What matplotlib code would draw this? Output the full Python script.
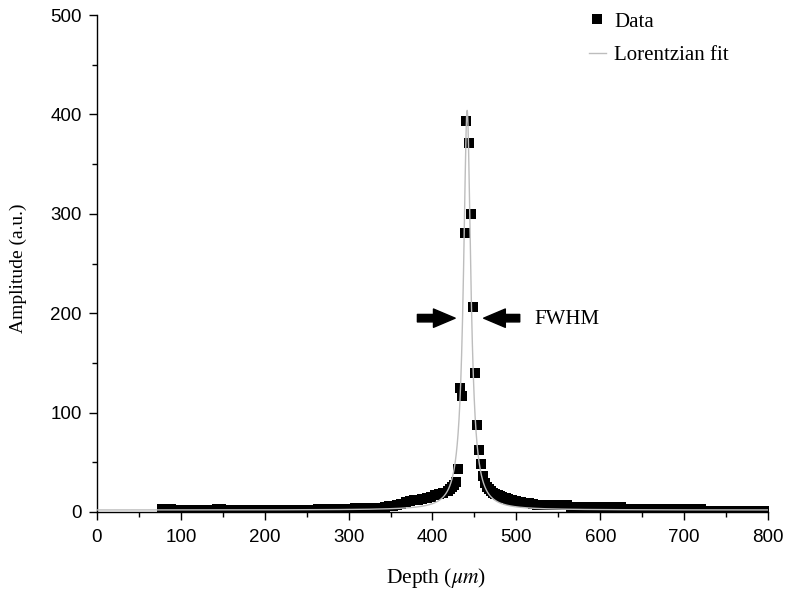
import numpy as np
import matplotlib
matplotlib.use('Agg')
import matplotlib.pyplot as plt
from matplotlib.patches import FancyArrowPatch
from matplotlib.ticker import MultipleLocator

# ---------------- data ----------------
depth_left = [78, 83, 88, 93, 98, 103, 108, 113, 118, 123, 128, 133, 138, 143, 148,
              153, 158, 163, 168, 173, 178, 183, 188, 193, 198, 203, 208, 213, 218, 223,
              228, 233, 238, 243, 248, 253, 258, 263, 268, 273, 278, 283, 288, 293, 298,
              303, 308, 313, 318, 323, 328, 333, 338, 343, 348, 353, 358, 363, 368, 373,
              378, 383, 388, 393, 398, 403, 408, 413, 418, 420.5, 423, 425.5, 428]
amp_left = [3, 3, 3, 1.7, 1.7, 1.7, 1.7, 1.7, 1.7, 1.7, 1.7, 1.7, 1.7, 3, 3,
            1.7, 1.7, 1.7, 1.7, 1.7, 1.7, 1.7, 1.7, 1.7, 1.7, 1.7, 1.7, 1.7, 1.7, 1.7,
            1.7, 1.7, 1.7, 1.7, 1.7, 1.7, 1.7, 3, 3, 3, 3, 3, 3, 3, 3,
            3, 4.3, 4.3, 4.3, 4.3, 4.3, 4.3, 4.3, 5.5, 6, 6.5, 7.5, 8.5, 10, 11,
            12, 12.5, 13.5, 14, 15.5, 17, 18, 19.5, 21.5, 23, 25, 27, 30.5]

depth_peak = [430.8, 432.8, 435.2, 438.4, 440.0, 443.5, 445.5, 448.3, 450.7, 453.4, 455.8]
amp_peak = [43, 125, 117, 281, 393, 371, 300, 206, 139.5, 88, 62]

depth_right = [458.2, 460.6, 463, 465.4, 467.8, 470.2, 472.6, 475, 477.5, 480, 482.5,
               485, 487.5, 490, 492.5, 495, 497.5, 500, 505, 510, 515, 520, 525,
               530, 535, 540, 545, 550, 555, 560, 565, 570, 575, 580, 585, 590, 595,
               600, 605, 610, 615, 620, 625, 630, 635, 640, 645, 650, 655, 660, 665,
               670, 675, 680, 685, 690, 695, 700, 705, 710, 715, 720, 725, 730, 735,
               740, 745, 750, 755, 760, 765, 770, 775, 780, 785, 790, 795, 800]
amp_right = [48, 36, 29, 25.5, 23, 21, 19.5, 18.5, 17.5, 16.5, 15.5,
             14.5, 13.8, 13, 12.5, 12, 11.5, 11, 10, 9.2, 8.6, 8, 7.5,
             7, 7, 7, 7, 7, 7, 7, 4.7, 4.7, 4.7, 4.7, 4.7, 4.7, 4.7,
             4.7, 4.7, 4.7, 4.7, 4.7, 4.7, 2.7, 2.7, 2.7, 2.7, 2.7, 2.7, 2.7, 2.7,
             2.7, 2.7, 2.7, 2.7, 2.7, 2.7, 2.7, 2.7, 2.7, 2.7, 2.7, 1.3, 1.3, 1.3,
             1.3, 1.3, 1.3, 1.3, 1.3, 1.3, 1.3, 1.3, 1.3, 1.3, 1.3, 1.3, 1.3]

# Lorentzian fit parameters
fit_y0 = 2.0
fit_xc = 441.3
fit_fwhm = 10.5
fit_height = 402.0

x_ticks = [0, 100, 200, 300, 400, 500, 600, 700, 800]
y_ticks = [0, 100, 200, 300, 400, 500]

fwhm_level = 195

# ---------------- figure ----------------
plt.rcParams['font.family'] = ['Liberation Sans', 'DejaVu Sans']
plt.rcParams['mathtext.fontset'] = 'stix'
serif = ['Liberation Serif', 'DejaVu Serif']

fig = plt.figure(figsize=(7.88, 5.92), dpi=100)
ax = fig.add_axes([97 / 788, 1 - 512 / 592, 671 / 788, 497 / 592])

depth = np.array(depth_left + depth_peak + depth_right)
amplitude = np.array(amp_left + amp_peak + amp_right)

fit_x = np.linspace(0, 800, 8001)
g = fit_fwhm / 2.0
fit_y = fit_y0 + fit_height * g ** 2 / ((fit_x - fit_xc) ** 2 + g ** 2)

ax.plot(depth, amplitude, linestyle='none', marker='s', color='black',
        markersize=7, markeredgewidth=0, label='Data', zorder=2)
ax.plot(fit_x, fit_y, color='#bdbdbd', lw=1.0, label='Lorentzian fit', zorder=3)

# FWHM arrows
for x0, x1 in [(382, 427), (504, 461)]:
    ax.add_patch(FancyArrowPatch((x0, fwhm_level), (x1, fwhm_level),
                                 arrowstyle='simple,head_length=1.3,head_width=1.1,tail_width=0.45',
                                 mutation_scale=12, color='black', shrinkA=0, shrinkB=0,
                                 zorder=4))
ax.text(521, fwhm_level - 1, 'FWHM', family=serif, fontsize=15, va='center', ha='left')

ax.set_xlim(0, 800)
ax.set_ylim(0, 500)
ax.set_xticks(x_ticks)
ax.set_yticks(y_ticks)
ax.xaxis.set_minor_locator(MultipleLocator(50))
ax.yaxis.set_minor_locator(MultipleLocator(50))
ax.tick_params(which='major', direction='out', length=6, width=1, labelsize=13.5)
ax.tick_params(axis='x', which='major', pad=6.5)
ax.tick_params(axis='y', which='major', pad=5)
ax.tick_params(which='minor', direction='out', length=3.5, width=1)
for s in ['top', 'right']:
    ax.spines[s].set_visible(False)
for s in ['left', 'bottom']:
    ax.spines[s].set_linewidth(1)

ax.set_xlabel(r'Depth ($\mu m$)', family=serif, fontsize=15.5)
ax.set_ylabel('Amplitude (a.u.)', family=serif, fontsize=14)
ax.xaxis.set_label_coords(0.506, -0.108)
ax.yaxis.set_label_coords(-0.104, 0.49)

ax.legend(loc='upper left', bbox_to_anchor=(589 / 788, 1 - 12 / 592),
          bbox_transform=fig.transFigure, frameon=False,
          prop={'family': serif, 'size': 15}, handlelength=0.8,
          handletextpad=0.4, borderpad=0, borderaxespad=0, labelspacing=0.68)

fig.savefig('out.png', dpi=100)
